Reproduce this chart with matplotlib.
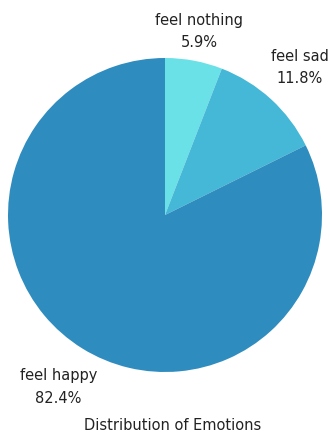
import numpy as np
import matplotlib
matplotlib.use("Agg")
import matplotlib.pyplot as plt

categories = ["feel nothing", "feel sad", "feel happy"]
values = [5.9, 11.8, 82.4]
pct_labels = ["5.9%", "11.8%", "82.4%"]
colors = ["#6ae1e7", "#45b7d7", "#2f8cbf"]
title = "Distribution of Emotions"

W, H = 330, 432
fig = plt.figure(figsize=(W / 100, H / 100), dpi=100)
ax = fig.add_axes([0, 0, 1, 1])
cx, cy = 165, 215
R = 157
wedges, _ = ax.pie(values, colors=colors, startangle=90, counterclock=False,
                   radius=R, center=(0, 0), frame=True,
                   wedgeprops=dict(linewidth=0))
ax.set_xlim(-cx, W - cx)
ax.set_ylim(-(H - cy), cy)
ax.set_aspect("equal")
ax.axis("off")

dist = [1.19, 1.27, 1.29]
for w, cat, p, d in zip(wedges, categories, pct_labels, dist):
    ang = np.deg2rad((w.theta1 + w.theta2) / 2)
    x, y = R * d * np.cos(ang), R * d * np.sin(ang)
    ax.text(x, y, f"{cat}\n{p}", ha="center", va="center", fontsize=10.5,
            color="#222222", linespacing=1.6, family="DejaVu Sans")

ax.text(8, -(425 - cy), title, ha="center", va="center", fontsize=10.5,
        color="#222222", family="DejaVu Sans")

fig.savefig("out.png", dpi=100)
